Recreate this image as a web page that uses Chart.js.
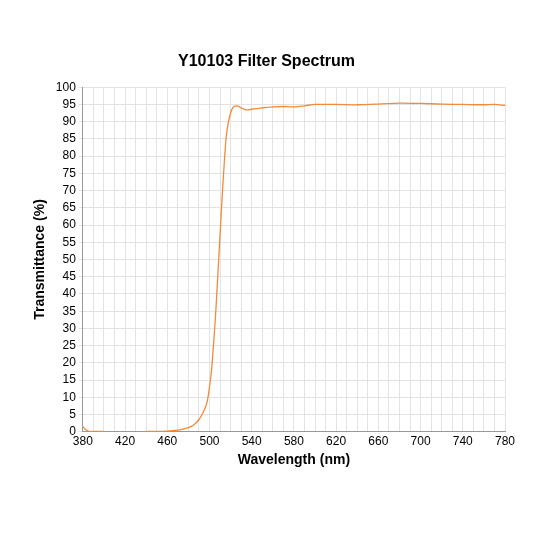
<!DOCTYPE html><html><head><script src="https://cdn.jsdelivr.net/npm/chart.js"></script>
<style>body{margin:0;background:#fff}#w{width:533px;height:533px}</style></head><body><div id="w"><canvas id="c"></canvas></div>
<script>
const wavelengths=[380,382,384,386,390,395,400,401,440,450,460,470,475,480,485,490,493,496,498,500,502,504,506,508,510,512,514,516,518,520,522,524,526,528,530,535,540,545,550,560,570,580,590,600,620,640,660,680,700,720,740,760,770,780];
const transmittance=[1.5,0.8,0.4,0.1,0.1,0.1,0.1,null,0.1,0.1,0.2,0.5,0.8,1.2,2,3.5,5,7,9,13,18,26,35,46,57,68,78,86,90,92.5,94,94.5,94.6,94.4,94,93.4,93.6,93.8,94,94.3,94.4,94.3,94.6,95,95,94.9,95.1,95.4,95.3,95.1,95,94.9,95,94.7];
const xTicks=[380,420,460,500,540,580,620,660,700,740,780];
new Chart(document.getElementById('c'),{type:'line',
data:{datasets:[{data:wavelengths.map((x,i)=>({x,y:transmittance[i]})),borderColor:'#f08a3c',borderWidth:1.3,pointRadius:0,tension:0.3,spanGaps:false}]},
options:{responsive:true,maintainAspectRatio:false,animation:false,
layout:{padding:{left:28,right:28,top:52,bottom:60}},
plugins:{legend:{display:false},title:{display:true,text:'Y10103 Filter Spectrum',color:'#000',font:{family:'Liberation Sans',size:16,weight:'bold'},padding:{bottom:16}}},
scales:{x:{type:'linear',min:380,max:780,border:{color:'#999'},
ticks:{stepSize:10,autoSkip:false,maxRotation:0,minRotation:0,color:'#000',font:{family:'Liberation Sans',size:12},callback:v=>xTicks.includes(v)?v:''},
grid:{color:'#e3e3e3',tickLength:0},
title:{display:true,text:'Wavelength (nm)',color:'#000',font:{family:'Liberation Sans',size:14,weight:'bold'},padding:{top:0}}},
y:{min:0,max:100,border:{color:'#999'},ticks:{stepSize:5,autoSkip:false,color:'#000',font:{family:'Liberation Sans',size:12}},grid:{color:'#e3e3e3',tickLength:4},
title:{display:true,text:'Transmittance (%)',color:'#000',font:{family:'Liberation Sans',size:14,weight:'bold'}}}}}});
</script></body></html>
